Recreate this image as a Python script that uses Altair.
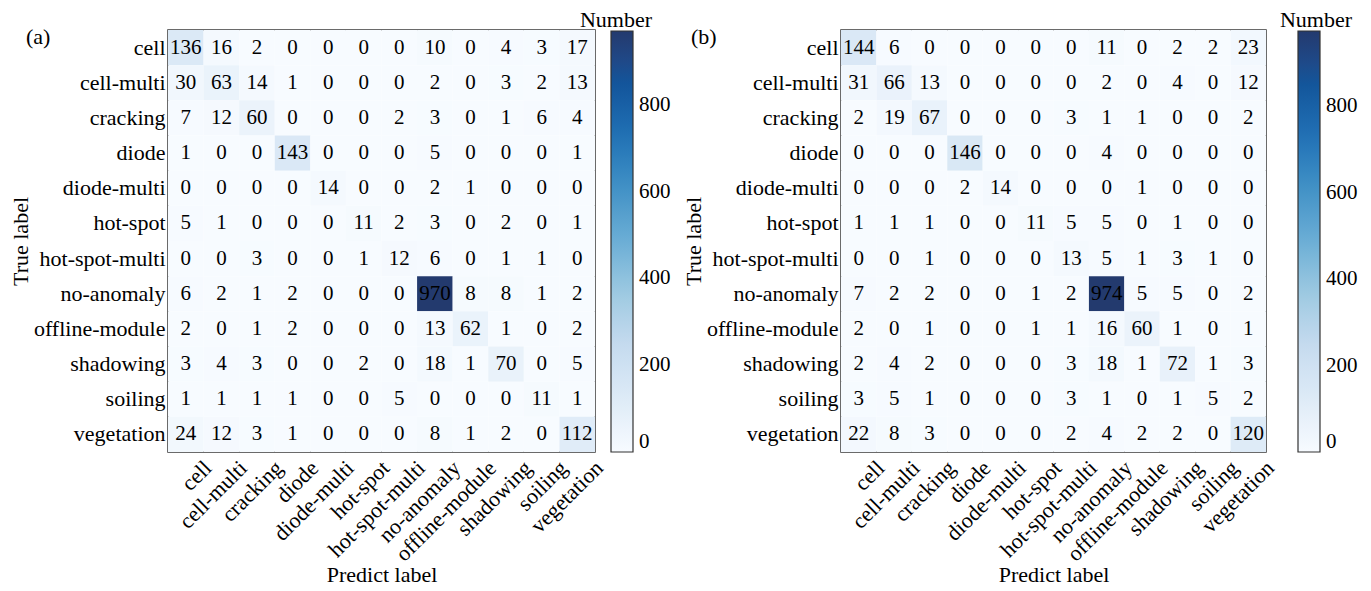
import altair as alt
import pandas as pd

FONT = "Liberation Serif"

categories = ["cell", "cell-multi", "cracking", "diode", "diode-multi", "hot-spot",
              "hot-spot-multi", "no-anomaly", "offline-module", "shadowing",
              "soiling", "vegetation"]

matrix_a = [
    [136, 16, 2, 0, 0, 0, 0, 10, 0, 4, 3, 17],
    [30, 63, 14, 1, 0, 0, 0, 2, 0, 3, 2, 13],
    [7, 12, 60, 0, 0, 0, 2, 3, 0, 1, 6, 4],
    [1, 0, 0, 143, 0, 0, 0, 5, 0, 0, 0, 1],
    [0, 0, 0, 0, 14, 0, 0, 2, 1, 0, 0, 0],
    [5, 1, 0, 0, 0, 11, 2, 3, 0, 2, 0, 1],
    [0, 0, 3, 0, 0, 1, 12, 6, 0, 1, 1, 0],
    [6, 2, 1, 2, 0, 0, 0, 970, 8, 8, 1, 2],
    [2, 0, 1, 2, 0, 0, 0, 13, 62, 1, 0, 2],
    [3, 4, 3, 0, 0, 2, 0, 18, 1, 70, 0, 5],
    [1, 1, 1, 1, 0, 0, 5, 0, 0, 0, 11, 1],
    [24, 12, 3, 1, 0, 0, 0, 8, 1, 2, 0, 112],
]

matrix_b = [
    [144, 6, 0, 0, 0, 0, 0, 11, 0, 2, 2, 23],
    [31, 66, 13, 0, 0, 0, 0, 2, 0, 4, 0, 12],
    [2, 19, 67, 0, 0, 0, 3, 1, 1, 0, 0, 2],
    [0, 0, 0, 146, 0, 0, 0, 4, 0, 0, 0, 0],
    [0, 0, 0, 2, 14, 0, 0, 0, 1, 0, 0, 0],
    [1, 1, 1, 0, 0, 11, 5, 5, 0, 1, 0, 0],
    [0, 0, 1, 0, 0, 0, 13, 5, 1, 3, 1, 0],
    [7, 2, 2, 0, 0, 1, 2, 974, 5, 5, 0, 2],
    [2, 0, 1, 0, 0, 1, 1, 16, 60, 1, 0, 1],
    [2, 4, 2, 0, 0, 0, 3, 18, 1, 72, 1, 3],
    [3, 5, 1, 0, 0, 0, 3, 1, 0, 1, 5, 2],
    [22, 8, 3, 0, 0, 0, 2, 4, 2, 2, 0, 120],
]

legend_ticks = [0, 200, 400, 600, 800]
panel_tags = ["(a)", "(b)"]
legend_title = "Number"

blues_range = ["#f7fbff", "#deebf7", "#c6dbef", "#9ecae1", "#6baed6",
               "#4292c6", "#2171b5", "#13559b", "#233a6e"]


def panel(matrix, tag, w, h, legend_gap, title_dx, tag_dx):
    rows = []
    for i, t in enumerate(categories):
        for j, p in enumerate(categories):
            rows.append({"true": t, "pred": p, "count": matrix[i][j]})
    df = pd.DataFrame(rows)
    vmax = int(df["count"].max())

    x = alt.X("pred:N", sort=categories, title="Predict label",
              axis=alt.Axis(labelAngle=-45, labelAlign="right", labelBaseline="top",
                            labelOffset=15, labelPadding=5, ticks=False, domain=False,
                            labelOverlap=False, titlePadding=0))
    y = alt.Y("true:N", sort=categories, title="True label",
              axis=alt.Axis(ticks=False, domain=False, labelPadding=3,
                            titlePadding=1, labelOverlap=False))
    base = alt.Chart(df).encode(x=x, y=y)

    rect = base.mark_rect().encode(
        color=alt.Color(
            "count:Q",
            scale=alt.Scale(domain=[0, vmax], range=blues_range),
            legend=alt.Legend(orient="none", direction="vertical",
                              legendX=w + legend_gap, legendY=1, title=None,
                              gradientLength=h - 1, gradientThickness=22,
                              gradientStrokeColor="#333333", gradientStrokeWidth=1.2,
                              values=legend_ticks, labelOffset=6),
        )
    )
    text = base.mark_text(fontSize=21, color="black", font=FONT).encode(text="count:Q")

    tag_text = alt.Chart(pd.DataFrame({"label": [tag]})).mark_text(
        align="left", baseline="alphabetic", fontSize=22, color="black", font=FONT
    ).encode(x=alt.value(tag_dx), y=alt.value(14), text="label:N")

    number = alt.Chart(pd.DataFrame({"label": [legend_title]})).mark_text(
        align="center", baseline="alphabetic", fontSize=22, color="black", font=FONT
    ).encode(x=alt.value(w + title_dx), y=alt.value(-3), text="label:N")

    return alt.layer(rect, text, tag_text, number).properties(width=w, height=h)


chart_a = panel(matrix_a, panel_tags[0], 427, 422, 16, 21, -142)
chart_b = panel(matrix_b, panel_tags[1], 425, 422, 32, 50, -150)

chart = (
    alt.hconcat(chart_a, chart_b, spacing=9)
    .resolve_scale(color="independent")
    .properties(background="white", padding=0)
    .configure_axis(labelFont=FONT, titleFont=FONT, labelFontSize=22, titleFontSize=22,
                    labelColor="black", titleColor="black", titleFontWeight="normal",
                    labelFontWeight="normal")
    .configure_legend(labelFont=FONT, labelFontSize=21, labelColor="black")
    .configure_view(stroke="#3a3a3a", strokeWidth=1.5)
)

chart.save("out.html", embed_options={"renderer": "svg", "actions": False})
